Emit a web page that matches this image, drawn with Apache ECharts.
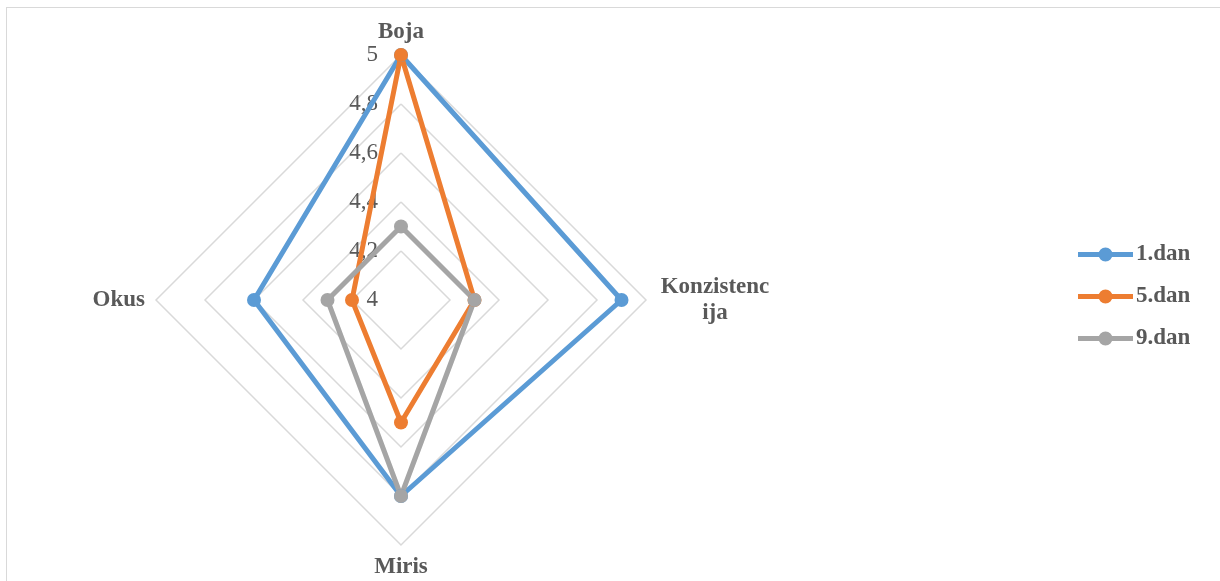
<!DOCTYPE html>
<html>
<head>
<meta charset="utf-8">
<script src="https://cdn.jsdelivr.net/npm/echarts@6/dist/echarts.min.js"></script>
<style>
html,body{margin:0;padding:0;background:#fff;overflow:hidden;}
#frame{position:absolute;left:6px;top:7px;width:1300px;height:700px;border:1.5px solid #d9d9d9;box-sizing:border-box;}
#chart{position:absolute;left:0;top:0;width:1220px;height:581px;}
</style>
</head>
<body>
<div id="frame"></div>
<div id="chart"></div>
<script>
// Data
const indicators = ['Boja', 'Okus', 'Miris', 'Konzistencija'];
const seriesNames = ['1.dan', '5.dan', '9.dan'];
const dan1 = [5.0, 4.6, 4.8, 4.9];
const dan5 = [5.0, 4.2, 4.5, 4.3];
const dan9 = [4.3, 4.3, 4.8, 4.3];
const colors = ['#5B9BD5', '#ED7D31', '#A5A5A5'];
const axisMin = 4, axisMax = 5;

const font = '"Liberation Serif", "Times New Roman", serif';
const iconPath = 'path://M0,4.5 L21,4.5 L21,9.5 L0,9.5 Z M34,4.5 L55,4.5 L55,9.5 L34,9.5 Z M20.5,7 A7,7 0 1,1 34.5,7 A7,7 0 1,1 20.5,7 Z';

const chart = echarts.init(document.getElementById('chart'), null, {renderer: 'canvas'});
const values = [dan1, dan5, dan9];
chart.setOption({
  animation: false,
  backgroundColor: 'transparent',
  color: colors,
  legend: {
    orient: 'vertical',
    left: 1073,
    top: 238,
    itemWidth: 55,
    itemHeight: 14,
    itemGap: 19,
    icon: iconPath,
    textStyle: {fontFamily: font, fontSize: 23, fontWeight: 'bold', color: '#595959', padding: [0,0,0,-2]},
    data: seriesNames
  },
  radar: {
    center: [401, 300],
    radius: 245,
    startAngle: 90,
    shape: 'polygon',
    splitNumber: 5,
    axisNameGap: 11,
    indicator: indicators.map((n, i) => ({
      name: n, min: axisMin, max: axisMax,
      axisLabel: {show: i === 0}
    })),
    axisName: {
      color: '#595959',
      fontFamily: font,
      fontSize: 23,
      fontWeight: 'bold',
      formatter: function (name) {
        if (name.length > 10) {
          return '{k|' + name.slice(0, 10) + '}\n{k|' + name.slice(10) + '}';
        }
        return name;
      },
      rich: {
        k: {width: 116, align: 'center', fontFamily: font, fontSize: 23, fontWeight: 'bold', color: '#595959', lineHeight: 26}
      }
    },
    axisLine: {show: false},
    axisTick: {show: false},
    splitArea: {show: false},
    splitLine: {lineStyle: {color: '#d9d9d9', width: 1.5}},
    axisLabel: {
      show: true,
      color: '#595959',
      fontFamily: font,
      fontSize: 23,
      margin: 23,
      align: 'right',
      formatter: function (v) { return String(+v.toFixed(1)).replace('.', ','); }
    }
  },
  series: [{
    type: 'radar',
    symbol: 'circle',
    symbolSize: 14,
    data: seriesNames.map((n, i) => ({
      name: n,
      value: values[i],
      lineStyle: {width: 5, color: colors[i]},
      itemStyle: {color: colors[i]}
    }))
  }]
});
</script>
</body>
</html>
